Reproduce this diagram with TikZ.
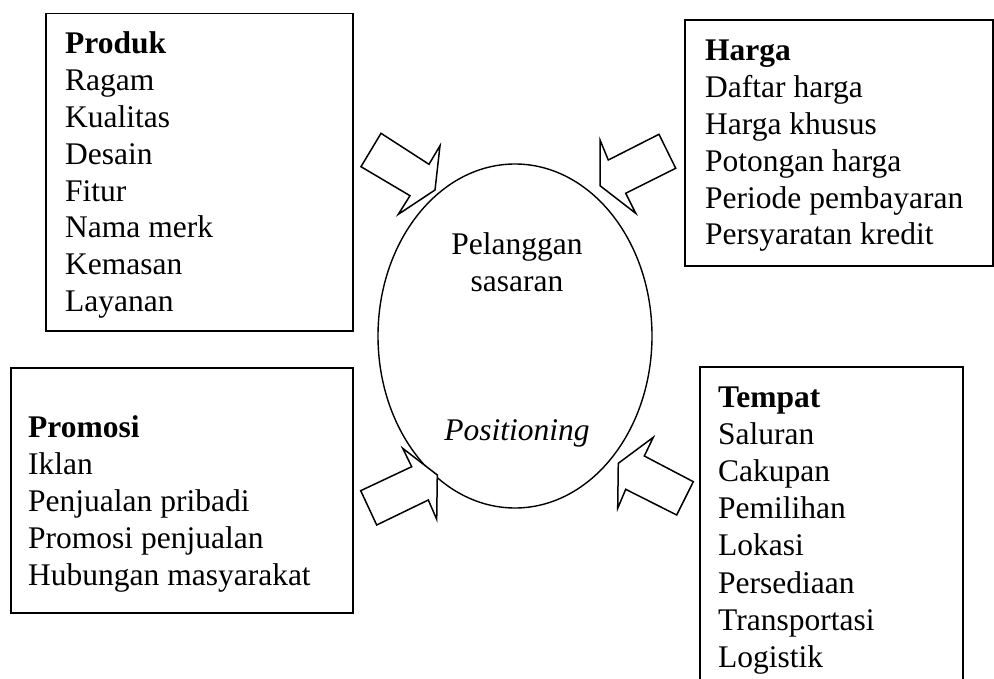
\documentclass[tikz,border=0pt]{standalone}
\usepackage{fontspec}
\setmainfont{Liberation Serif}
\usetikzlibrary{shapes.geometric}
\begin{document}
\begin{tikzpicture}[x=1pt,y=-1pt,
  boxframe/.style={draw, line width=1.8pt, inner sep=0pt, anchor=north west},
  lbl/.style={anchor=base west, inner sep=0pt, font=\fontsize{31.5}{36}\selectfont},
  hd/.style={anchor=base west, inner sep=0pt, font=\fontsize{31.5}{36}\selectfont\bfseries},
  ctr/.style={anchor=base, inner sep=0pt, font=\fontsize{31.5}{36}\selectfont},
  fatarrow/.style={draw, line width=1.5pt, line join=miter, fill=white}]
\useasboundingbox (0,0) rectangle (994,679);
\clip (0,0) rectangle (994,679);

% boxes
\node[boxframe, minimum width=307pt, minimum height=317pt] (produk) at (45,12.7) {};
\node[boxframe, minimum width=308pt, minimum height=246pt] (harga) at (684,19) {};
\node[boxframe, minimum width=342pt, minimum height=245pt] (promosi) at (10,367) {};
\node[boxframe, minimum width=263pt, minimum height=330pt] (tempat) at (699,366) {};

% target ellipse
\node[draw, ellipse, line width=1.4pt, minimum width=274pt, minimum height=344pt, inner sep=0pt] (target) at (515,336) {};
\node[ctr] (t1) at (517,255) {Pelanggan};
\node[ctr] (t2) at (517,292) {sasaran};
\node[ctr] (t3) at (517,440) {\itshape Positioning};

% Produk
\node[hd] (p0) at (65,54) {Produk};
\foreach \t [count=\i] in {Ragam,Kualitas,Desain,Fitur,Nama merk,Kemasan,Layanan}
  \node[lbl] (p\i) at (65,54+36.8*\i) {\t};

% Harga
\node[hd] (h0) at (705,61) {Harga};
\foreach \t [count=\i] in {Daftar harga,Harga khusus,Potongan harga,Periode pembayaran,Persyaratan kredit}
  \node[lbl] (h\i) at (705,61+36.8*\i) {\t};

% Promosi
\node[hd] (m0) at (28,437) {Promosi};
\foreach \t [count=\i] in {Iklan,Penjualan pribadi,Promosi penjualan,Hubungan masyarakat}
  \node[lbl] (m\i) at (28,437+37*\i) {\t};

% Tempat
\node[hd] (s0) at (718,407) {Tempat};
\foreach \t [count=\i] in {Saluran,Cakupan,Pemilihan,Lokasi,Persediaan,Transportasi,Logistik}
  \node[lbl] (s\i) at (718,407+37.2*\i) {\t};

% block arrows
\draw[fatarrow] (381,133.3) -- (429,164.3) -- (440,145.7) -- (435,190) -- (398.3,214.3) -- (410,195.7) -- (361,166.7) -- cycle;
\draw[fatarrow] (659,134.3) -- (675.7,168.3) -- (625.7,193.3) -- (635.7,213.3) -- (600,185.7) -- (600,140) -- (608.3,160) -- cycle;
\draw[fatarrow] (360.7,490.7) -- (411.7,466.7) -- (402.7,448.3) -- (437.3,475) -- (436.7,519.3) -- (428.3,500) -- (376.7,525) -- cycle;
\draw[fatarrow] (693.3,481.7) -- (644.3,456) -- (653.3,437.3) -- (618.3,463.3) -- (617.7,508.3) -- (625.7,489.3) -- (676.7,515) -- cycle;
\end{tikzpicture}
\end{document}
